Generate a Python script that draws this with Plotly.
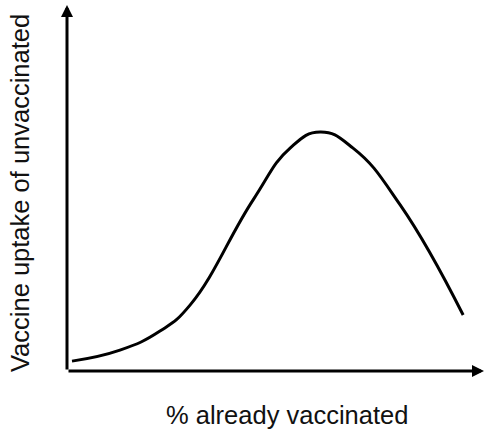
import plotly.graph_objects as go

# Curve (arbitrary units, 0-100 on both axes)
pct_vaccinated = [1.2, 12.7, 22.3, 29.5, 44.6, 53.5, 60.7, 68.6, 79.9, 95.0]
uptake = [2.7, 5.7, 10.9, 18.0, 46.7, 60.9, 65.3, 60.9, 45.4, 15.3]

x_title = "% already vaccinated"
y_title = "Vaccine uptake of unvaccinated"

fig = go.Figure()
fig.add_trace(go.Scatter(
    x=pct_vaccinated, y=uptake, mode="lines",
    line=dict(color="black", width=3, shape="spline", smoothing=1.3),
    hoverinfo="skip", showlegend=False,
))

font = dict(family="Liberation Sans, Arial, sans-serif", size=25.5, color="#111111")

fig.update_layout(
    width=484, height=429,
    margin=dict(l=67, r=0, t=5, b=58),
    paper_bgcolor="white", plot_bgcolor="white",
    xaxis=dict(range=[0, 100], visible=False, fixedrange=True),
    yaxis=dict(range=[0, 100], visible=False, fixedrange=True),
    annotations=[
        # x axis arrow
        dict(x=100, y=0, ax=0, ay=0, xref="x", yref="y", axref="x", ayref="y",
             showarrow=True, arrowhead=2, arrowsize=0.8, arrowwidth=3, arrowcolor="black", text=""),
        # y axis arrow
        dict(x=0, y=100, ax=0, ay=0, xref="x", yref="y", axref="x", ayref="y",
             showarrow=True, arrowhead=2, arrowsize=0.8, arrowwidth=3, arrowcolor="black", text=""),
        dict(text=x_title, x=0.528, y=-0.12, xref="paper", yref="paper",
             xanchor="center", yanchor="middle", showarrow=False, font=font),
        dict(text=y_title, x=-0.113, y=0.486, xref="paper", yref="paper",
             xanchor="center", yanchor="middle", showarrow=False, textangle=-90, font=font),
    ],
)

fig.write_html("out.html", config={"displayModeBar": False},
               post_script="document.body.style.margin='0';")
